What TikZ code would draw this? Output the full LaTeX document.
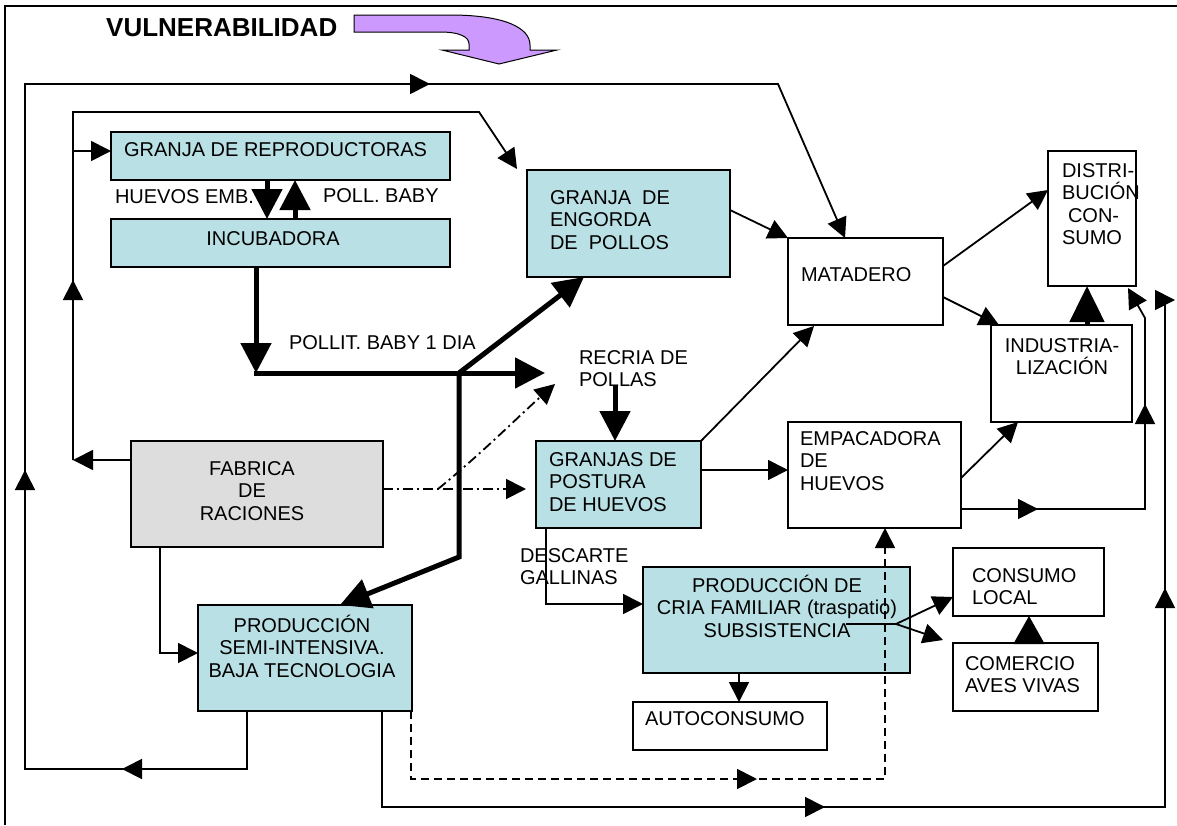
\documentclass[tikz,border=0pt]{standalone}
\usepackage{fontspec}
\setmainfont{Liberation Sans}
\usetikzlibrary{arrows.meta}
\definecolor{cybox}{RGB}{185,224,228}
\definecolor{grbox}{RGB}{221,221,221}
\definecolor{purp}{RGB}{204,153,255}
\newcommand{\mystrut}{\rule{0pt}{19pt}}
\tikzset{
  bx/.style={draw, line width=1.8pt, inner sep=0pt, outer sep=0pt, anchor=north west},
  cy/.style={bx, fill=cybox},
  txt/.style={inner sep=0pt, outer sep=0pt, font=\fontsize{20}{22.6}\selectfont},
  ln/.style={line width=1.8pt},
  ar/.style={ln, -{Triangle[length=20pt,width=20pt]}},
  thk/.style={line width=5pt, -{Triangle[length=30pt,width=30pt]}},
  dd/.style={ln, dash pattern=on 10pt off 4pt on 2pt off 4pt, -{Triangle[length=20pt,width=20pt]}},
  ds/.style={ln, dash pattern=on 8pt off 5pt, -{Triangle[length=20pt,width=20pt]}},
}
\begin{document}
\begin{tikzpicture}[x=1pt,y=-1pt]
\useasboundingbox (0,0) rectangle (1177,825);
% frame
\draw[line width=2pt] (5,825) -- (5,6) -- (1177,6);

% title and purple arrow
\node[anchor=west, inner sep=0pt, font=\fontsize{26}{26}\selectfont\bfseries] (vul) at (106,28) {VULNERABILIDAD};
\filldraw[fill=purp, draw=black, line width=1pt] (354,15) -- (450,15) .. controls (505,15) and (530,28) .. (530,45) -- (530,50) -- (557,50) -- (499,64) -- (442,50) -- (469,50) -- (469,44) .. controls (469,37) and (460,32) .. (440,32) -- (354,32) -- cycle;

% boxes
\node[cy, minimum width=339pt, minimum height=48pt] (repro) at (111,132) {};
\node[cy, minimum width=339pt, minimum height=48pt] (incub) at (111,219) {};
\node[cy, minimum width=203pt, minimum height=107pt] (engorda) at (527,170) {};
\node[bx, minimum width=155pt, minimum height=87pt] (matadero) at (788,238) {};
\node[bx, minimum width=88pt, minimum height=135pt] (distrib) at (1048,151) {};
\node[bx, minimum width=141pt, minimum height=97pt] (indus) at (991,325) {};
\node[cy, minimum width=165pt, minimum height=87pt] (granjas) at (536,441) {};
\node[bx, minimum width=173pt, minimum height=106pt] (empac) at (788,422) {};
\node[bx, fill=grbox, minimum width=252pt, minimum height=106pt] (fabrica) at (131,441) {};
\node[cy, minimum width=214pt, minimum height=106pt] (semi) at (198,605) {};
\node[cy, minimum width=267pt, minimum height=106pt] (cria) at (643,567) {};
\node[bx, minimum width=194pt, minimum height=48pt] (auto) at (633,702) {};
\node[bx, minimum width=151pt, minimum height=68pt] (consumo) at (953,548) {};
\node[bx, minimum width=145pt, minimum height=68pt] (comercio) at (953,643) {};

% texts
\node[txt, anchor=west] (trepro) at (124,150) {GRANJA DE REPRODUCTORAS};
\node[txt] (tincub) at (273,239) {INCUBADORA};
\node[txt, anchor=west] (thuevos) at (115,197) {HUEVOS EMB.};
\node[txt, anchor=west] (tpoll) at (323,196) {POLL. BABY};
\node[txt, anchor=west] (tpollit) at (289,343) {POLLIT. BABY 1 DIA};
\node[txt, anchor=north west, align=left] (trecria) at (579,345) {\mystrut RECRIA DE\\POLLAS};
\node[txt, anchor=north west, align=left] (tengorda) at (550,185) {\mystrut GRANJA\ \ DE\\ENGORDA\\DE\ \ POLLOS};
\node[txt, anchor=west] (tmatadero) at (801,275) {MATADERO};
\node[txt, anchor=north west, align=left] (tdistrib) at (1062,158) {\mystrut DISTRI-\\BUCIÓN\\\hspace*{6pt}CON-\\SUMO};
\node[txt, anchor=north, align=center] (tindus) at (1062,333) {\mystrut INDUSTRIA-\\LIZACIÓN};
\node[txt, anchor=north west, align=left] (tgranjas) at (549,447) {\mystrut GRANJAS DE\\POSTURA\\DE HUEVOS};
\node[txt, anchor=north west, align=left] (tempac) at (800,426) {\mystrut EMPACADORA\\DE\\HUEVOS};
\node[txt, anchor=north, align=center] (tfabrica) at (252,456) {\mystrut FABRICA\\DE\\RACIONES};
\node[txt, anchor=north west, align=left] (tdescarte) at (520,543) {\mystrut DESCARTE\\GALLINAS};
\node[txt, anchor=north, align=center] (tsemi) at (302,613) {\mystrut PRODUCCIÓN\\SEMI-INTENSIVA.\\BAJA TECNOLOGIA};
\node[txt, anchor=north, align=center] (tcria) at (777,573) {\mystrut PRODUCCIÓN DE\\CRIA FAMILIAR (traspatio)\\SUBSISTENCIA};
\node[txt, anchor=west] (tauto) at (645,719) {AUTOCONSUMO};
\node[txt, anchor=north west, align=left] (tconsumo) at (972,563) {\mystrut CONSUMO\\LOCAL};
\node[txt, anchor=north west, align=left] (tcomercio) at (965,651) {\mystrut COMERCIO\\AVES VIVAS};

% coordinates
\coordinate (o1) at (247,769);
\coordinate (o2) at (25,769);
\coordinate (o3) at (25,84);
\coordinate (o4) at (778,84);
\coordinate (o5) at (845,238);
\coordinate (i1) at (73,460);
\coordinate (i2) at (73,112);
\coordinate (i3) at (479,112);
\coordinate (i4) at (517,169);
\coordinate (jn) at (459,373);
\coordinate (jd) at (459,557);
\coordinate (cj) at (896,624);
\coordinate (ddj) at (438,489);

% outer loop
\draw[ar] (semi.south -| o1) -- (o1) -- (o2) -- (o3) -- (o4) -- (o5);
\draw[ar] (145,769) -- (122,769);
\draw[ar] (25,492) -- (25,470);
\draw[ar] (408,84) -- (430,84);

% inner loop
\draw[ar] (fabrica.west |- i1) -- (i1);
\draw[ar] (i1) -- (i2) -- (i3) -- (i4);
\draw[ar] (73,302) -- (73,280);
\draw[ar] (73,151) -- (repro.west |- 73,151);

% reproductoras <-> incubadora
\draw[thk] (repro.south -| 267,0) -- (incub.north -| 267,0);
\draw[thk] (incub.north -| 295,0) -- (repro.south -| 295,0);

% pollitos
\draw[thk] (incub.south -| 256,0) -- (256,373);
\draw[line width=5pt, -{Triangle[length=30pt,width=30pt]}] (253.5,373) -- (545,373);
\draw[thk] (jn) -- (engorda.south -| 584,0);
\draw[thk] (jn) -- (jd) -- (semi.north -| 340,0);
\draw[thk] (615,385) -- (granjas.north -| 615,0);

% fabrica dash-dot
\draw[dd] (fabrica.east |- 0,489) -- (526,489);
\draw[dd] (ddj) .. controls (480,455) and (520,415) .. (555,384);

% main chain
\draw[ar] (engorda.east |- 0,210) -- (matadero.north west);
\draw[ar] (granjas.north east) -- (814,326);
\draw[ar] (granjas.east |- 0,470) -- (empac.west |- 0,470);
\draw[ar] (matadero.east |- 0,266) -- (distrib.west |- 0,190);
\draw[ar] (matadero.east |- 0,297) -- (indus.north -| 999,0);
\draw[line width=5pt, -{Triangle[length=36pt,width=34pt]}] (indus.north -| 1087,0) -- (distrib.south -| 1087,0);
\draw[ar] (empac.east |- 0,478) -- (indus.south -| 1018,0);
\draw[ar] (empac.east |- 0,509) -- (1145,509) -- (1145,318) -- (1128,288);
\draw[ar] (1018,509) -- (1038,509);
\draw[ar] (1145,424) -- (1145,404);

% descarte and cria
\draw[ar] (granjas.south -| 546,0) -- (546,604) -- (cria.west |- 0,604);
\draw[ar] (cria.south -| 739,0) -- (auto.north -| 739,0);
\draw[ln] (846,624) -- (cj);
\draw[ar] (cj) -- (consumo.west |- 0,597);
\draw[ar] (cj) -- (943,640);
\draw[ln, -{Triangle[length=28pt,width=31pt]}] (comercio.north -| 1029,0) -- (consumo.south -| 1029,0);

% fabrica to semi
\draw[ar] (fabrica.south -| 160,0) -- (160,653) -- (semi.west |- 0,653);

% dashed semi to empacadora
\draw[ds] (semi.south -| 411,0) -- (411,779) -- (885,779) -- (empac.south -| 885,0);
\draw[ar] (737,779) -- (757,779);

% bottom solid loop
\draw[ar] (semi.south -| 382,0) -- (382,807) -- (1165,807) -- (1165,300) -- (1175,300);
\draw[ar] (805,807) -- (825,807);
\draw[ar] (1165,608) -- (1165,588);
\end{tikzpicture}
\end{document}
